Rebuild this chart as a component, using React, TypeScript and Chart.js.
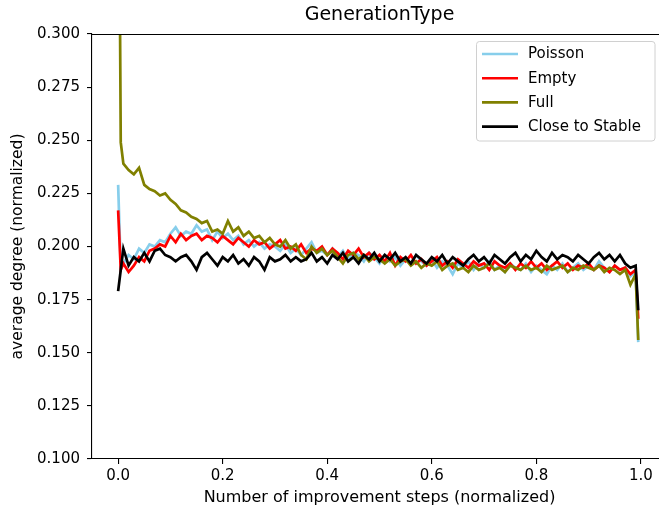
import React, { useEffect, useRef } from "react";
import { Chart, registerables } from "chart.js";

Chart.register(...registerables);

const STEPS = [
  0, 0.005,
  0.01, 0.02, 0.03, 0.04, 0.05, 0.06, 0.07, 0.08, 0.09,
  0.10, 0.11, 0.12, 0.13, 0.14, 0.15, 0.16, 0.17, 0.18, 0.19,
  0.20, 0.21, 0.22, 0.23, 0.24, 0.25, 0.26, 0.27, 0.28, 0.29,
  0.30, 0.31, 0.32, 0.33, 0.34, 0.35, 0.36, 0.37, 0.38, 0.39,
  0.40, 0.41, 0.42, 0.43, 0.44, 0.45, 0.46, 0.47, 0.48, 0.49,
  0.50, 0.51, 0.52, 0.53, 0.54, 0.55, 0.56, 0.57, 0.58, 0.59,
  0.60, 0.61, 0.62, 0.63, 0.64, 0.65, 0.66, 0.67, 0.68, 0.69,
  0.70, 0.71, 0.72, 0.73, 0.74, 0.75, 0.76, 0.77, 0.78, 0.79,
  0.80, 0.81, 0.82, 0.83, 0.84, 0.85, 0.86, 0.87, 0.88, 0.89,
  0.90, 0.91, 0.92, 0.93, 0.94, 0.95, 0.96, 0.97, 0.98, 0.99,
  0.995,
];

const POISSON = [
  0.229, 0.190,
  0.192, 0.196, 0.194, 0.199, 0.197, 0.201, 0.200, 0.203, 0.202,
  0.206, 0.209, 0.205, 0.207, 0.206, 0.210, 0.207, 0.208, 0.203, 0.207,
  0.204, 0.206, 0.203, 0.205, 0.201, 0.203, 0.200, 0.202, 0.199, 0.201,
  0.200, 0.198, 0.201, 0.197, 0.199, 0.196, 0.199, 0.202, 0.197, 0.198,
  0.196, 0.199, 0.195, 0.198, 0.194, 0.197, 0.196, 0.193, 0.197, 0.195,
  0.192, 0.196, 0.193, 0.195, 0.191, 0.194, 0.192, 0.196, 0.193, 0.191,
  0.194, 0.190, 0.193, 0.191, 0.187, 0.192, 0.190, 0.193, 0.189, 0.192,
  0.190, 0.193, 0.189, 0.191, 0.188, 0.192, 0.190, 0.189, 0.192, 0.188,
  0.191, 0.189, 0.187, 0.191, 0.189, 0.192, 0.188, 0.190, 0.192, 0.189,
  0.191, 0.189, 0.193, 0.190, 0.188, 0.191, 0.189, 0.190, 0.186, 0.188,
  0.155,
];

const EMPTY = [
  0.217, 0.189,
  0.192, 0.188, 0.191, 0.195, 0.193, 0.198, 0.199, 0.201, 0.200,
  0.205, 0.202, 0.206, 0.203, 0.205, 0.206, 0.203, 0.205, 0.204, 0.202,
  0.205, 0.203, 0.201, 0.204, 0.202, 0.200, 0.203, 0.201, 0.202, 0.199,
  0.201, 0.203, 0.199, 0.200, 0.198, 0.201, 0.197, 0.199, 0.198, 0.200,
  0.196, 0.199, 0.197, 0.194, 0.198, 0.196, 0.199, 0.195, 0.197, 0.194,
  0.196, 0.193, 0.197, 0.191, 0.195, 0.193, 0.196, 0.192, 0.194, 0.191,
  0.193, 0.195, 0.191, 0.193, 0.190, 0.194, 0.192, 0.190, 0.193, 0.191,
  0.192, 0.189, 0.193, 0.191, 0.190, 0.192, 0.189, 0.192, 0.190, 0.193,
  0.190, 0.192, 0.189, 0.191, 0.193, 0.190, 0.192, 0.189, 0.191, 0.190,
  0.192, 0.189, 0.191, 0.190, 0.188, 0.191, 0.189, 0.190, 0.187, 0.189,
  0.166,
];

const FULL = [
  0.45, 0.249,
  0.239, 0.236, 0.234, 0.237, 0.229, 0.227, 0.226, 0.224, 0.225,
  0.222, 0.220, 0.217, 0.216, 0.214, 0.213, 0.211, 0.212, 0.207, 0.208,
  0.206, 0.212, 0.207, 0.209, 0.205, 0.207, 0.204, 0.205, 0.202, 0.204,
  0.201, 0.200, 0.203, 0.199, 0.201, 0.196, 0.194, 0.200, 0.197, 0.199,
  0.196, 0.198, 0.195, 0.192, 0.196, 0.197, 0.194, 0.196, 0.193, 0.195,
  0.194, 0.192, 0.194, 0.191, 0.193, 0.194, 0.191, 0.193, 0.190, 0.192,
  0.191, 0.193, 0.189, 0.191, 0.192, 0.189, 0.190, 0.188, 0.191, 0.189,
  0.190, 0.192, 0.189, 0.190, 0.188, 0.191, 0.190, 0.189, 0.191, 0.189,
  0.190, 0.188, 0.191, 0.189, 0.190, 0.191, 0.188, 0.190, 0.189, 0.191,
  0.190, 0.189, 0.191, 0.188, 0.190, 0.189, 0.187, 0.189, 0.182, 0.187,
  0.156,
];

const CLOSE_TO_STABLE = [
  0.179, 0.189,
  0.199, 0.191, 0.195, 0.193, 0.197, 0.193, 0.198, 0.199, 0.196,
  0.195, 0.193, 0.195, 0.196, 0.193, 0.189, 0.195, 0.197, 0.194, 0.191,
  0.195, 0.193, 0.196, 0.192, 0.194, 0.191, 0.195, 0.193, 0.189, 0.195,
  0.193, 0.194, 0.196, 0.193, 0.195, 0.193, 0.194, 0.197, 0.193, 0.195,
  0.192, 0.196, 0.194, 0.197, 0.193, 0.195, 0.192, 0.196, 0.194, 0.197,
  0.193, 0.196, 0.194, 0.197, 0.193, 0.195, 0.192, 0.196, 0.194, 0.192,
  0.195, 0.193, 0.196, 0.192, 0.195, 0.193, 0.191, 0.194, 0.196, 0.193,
  0.195, 0.192, 0.196, 0.194, 0.192, 0.195, 0.197, 0.193, 0.196, 0.194,
  0.198, 0.195, 0.193, 0.197, 0.194, 0.196, 0.195, 0.193, 0.196, 0.194,
  0.192, 0.195, 0.197, 0.194, 0.196, 0.193, 0.196, 0.192, 0.190, 0.191,
  0.170,
];

const SERIES_LABELS = ["Poisson", "Empty", "Full", "Close to Stable"];
const SERIES_COLORS = ["#87CEEB", "#FF0000", "#808000", "#000000"];
const X_TICKS = [0, 0.2, 0.4, 0.6, 0.8, 1.0];
const Y_TICKS = [0.1, 0.125, 0.15, 0.175, 0.2, 0.225, 0.25, 0.275, 0.3];

const FONT = "'DejaVu Sans', sans-serif";

const framePlugin = {
  id: "frame",
  afterDraw(chart: any) {
    const { ctx, chartArea } = chart;
    ctx.save();
    ctx.strokeStyle = "#000";
    ctx.lineWidth = 1.1;
    ctx.beginPath();
    ctx.moveTo(chartArea.left, chartArea.top + 0.5);
    ctx.lineTo(chartArea.right, chartArea.top + 0.5);
    ctx.stroke();
    ctx.restore();
  },
};

const legendPlugin = {
  id: "insideLegend",
  afterDraw(chart: any) {
    const { ctx } = chart;
    const datasets = chart.data.datasets;
    const x0 = 476.5;
    const y0 = 41.5;
    const w = 178.5;
    const h = 99.5;
    ctx.save();
    ctx.beginPath();
    ctx.roundRect(x0, y0, w, h, 3);
    ctx.fillStyle = "rgba(255,255,255,0.8)";
    ctx.fill();
    ctx.strokeStyle = "#d0d0d0";
    ctx.lineWidth = 1;
    ctx.stroke();
    ctx.font = `15px ${FONT}`;
    ctx.textBaseline = "middle";
    ctx.textAlign = "left";
    datasets.forEach((ds: any, i: number) => {
      const cy = 54 + i * 24.2;
      ctx.strokeStyle = ds.borderColor;
      ctx.lineWidth = 2.6;
      ctx.beginPath();
      ctx.moveTo(482, cy);
      ctx.lineTo(518, cy);
      ctx.stroke();
      ctx.fillStyle = "#000";
      ctx.fillText(ds.label, 528, cy + 0.5);
    });
    ctx.restore();
  },
};

export default function App() {
  const canvasRef = useRef<HTMLCanvasElement | null>(null);

  useEffect(() => {
    const canvas = canvasRef.current;
    if (!canvas) return;
    const seriesValues = [POISSON, EMPTY, FULL, CLOSE_TO_STABLE];
    const datasets = seriesValues.map((vals, i) => ({
      label: SERIES_LABELS[i],
      data: STEPS.map((x, j) => ({ x, y: vals[j] })),
      borderColor: SERIES_COLORS[i],
      backgroundColor: SERIES_COLORS[i],
      borderWidth: 2.7,
      pointRadius: 0,
      tension: 0,
      fill: false,
      clip: 0,
      order: 4 - i,
    }));

    const chart = new Chart(canvas, {
      type: "line",
      data: { datasets },
      options: {
        animation: false,
        responsive: false,
        devicePixelRatio: 1,
        layout: { padding: 0 },
        plugins: {
          legend: { display: false },
          tooltip: { enabled: false },
          title: {
            display: true,
            text: "GenerationType",
            fullSize: false,
            color: "#000",
            font: { family: FONT, size: 19, weight: "normal" },
            padding: { top: 4, bottom: 7.2 },
          },
        },
        scales: {
          x: {
            type: "linear",
            min: -0.05,
            max: 1.05,
            afterBuildTicks: (axis: any) => {
              axis.ticks = X_TICKS.map((v) => ({ value: v }));
            },
            afterFit: (axis: any) => {
              axis.height = 53;
            },
            border: { display: true, color: "#000", width: 1.1 },
            grid: {
              display: true,
              drawOnChartArea: false,
              drawTicks: true,
              tickLength: 5,
              color: "#000",
              lineWidth: 1.1,
            },
            ticks: {
              color: "#000",
              padding: 3,
              maxRotation: 0,
              font: { family: FONT, size: 15 },
              callback: (v: any) => Number(v).toFixed(1),
            },
            title: {
              display: true,
              text: "Number of improvement steps (normalized)",
              color: "#000",
              font: { family: FONT, size: 16 },
              padding: { top: 0, bottom: 5 },
            },
          },
          y: {
            type: "linear",
            min: 0.1,
            max: 0.3,
            afterBuildTicks: (axis: any) => {
              axis.ticks = Y_TICKS.map((v) => ({ value: v }));
            },
            afterFit: (axis: any) => {
              axis.width = 92;
            },
            border: { display: true, color: "#000", width: 1.1 },
            grid: {
              display: true,
              drawOnChartArea: false,
              drawTicks: true,
              tickLength: 5,
              color: "#000",
              lineWidth: 1.1,
            },
            ticks: {
              color: "#000",
              padding: 7,
              font: { family: FONT, size: 15 },
              callback: (v: any) => Number(v).toFixed(3),
            },
            title: {
              display: true,
              text: "average degree (normalized)",
              color: "#000",
              font: { family: FONT, size: 15.5 },
              padding: { top: 9, bottom: 0 },
            },
          },
        },
      },
      plugins: [framePlugin, legendPlugin],
    });

    return () => chart.destroy();
  }, []);

  return (
    <div
      style={{
        position: "absolute",
        left: 0,
        top: 0,
        width: 659,
        height: 512,
        overflow: "hidden",
        background: "#fff",
      }}
    >
      <canvas
        ref={canvasRef}
        width={667}
        height={512}
        style={{ display: "block", width: 667, height: 512 }}
      />
    </div>
  );
}
